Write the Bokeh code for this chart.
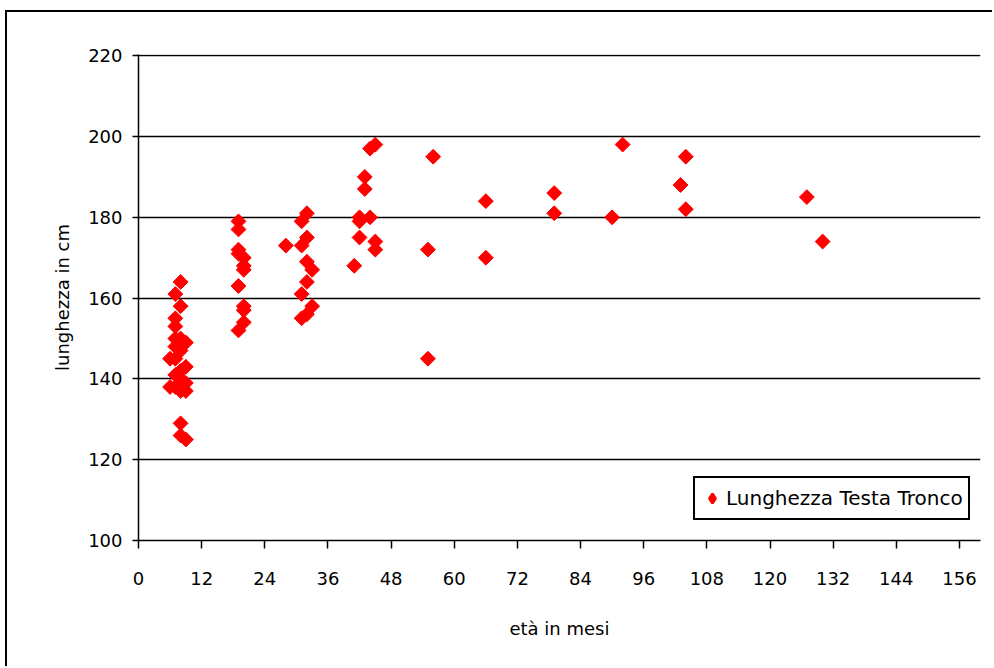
import numpy as np
from bokeh.plotting import figure
from bokeh.models import FixedTicker, Range1d
from bokeh.embed import file_html
from bokeh.resources import INLINE

# età in mesi / lunghezza in cm
eta_mesi = [8, 7, 8, 7, 7, 7, 8, 9, 7, 8, 6, 7, 9, 8, 7, 8, 9, 6, 7, 8, 9, 8, 8, 9,
            19, 19, 19, 19, 20, 20, 20, 19, 20, 20, 20, 19,
            28,
            32, 31, 32, 31, 32, 33, 32, 31, 33, 32, 31,
            45, 44, 43, 43, 42, 42, 44, 42, 45, 45, 41,
            56, 55, 55, 66, 66, 79, 79, 92, 90, 104, 103, 104, 127, 130]
lunghezza = [164, 161, 158, 155, 153, 150, 150, 149, 148, 147, 145, 145, 143, 142, 141, 140, 139, 138, 138, 137, 137, 129, 126, 125,
             179, 177, 172, 171, 170, 168, 167, 163, 158, 157, 154, 152,
             173,
             181, 179, 175, 173, 169, 167, 164, 161, 158, 156, 155,
             198, 197, 190, 187, 180, 179, 180, 175, 174, 172, 168,
             195, 172, 145, 184, 170, 186, 181, 198, 180, 195, 188, 182, 185, 174]
x_ticks = list(range(0, 157, 12))
y_ticks = list(range(100, 221, 20))
serie = "Lunghezza Testa Tronco"

FONT = "DejaVu Sans"

p = figure(width=987, height=656, output_backend="svg", toolbar_location=None,
           x_range=Range1d(0, 160), y_range=Range1d(100, 220.3),
           min_border_left=131, min_border_right=14, min_border_top=42, min_border_bottom=128,
           margin=(10, 0, 0, 5),
           styles={"border-top": "2px solid black", "border-left": "2px solid black"})
p.outline_line_color = None
p.background_fill_color = "white"
p.border_fill_color = "white"

p.scatter(eta_mesi, lunghezza, marker="square", angle=np.pi / 4, size=10.5,
          fill_color="#FF0000", line_color="#FF0000")
# legend swatch (diamond), drawn over the first point and hidden inside it
p.scatter(eta_mesi[:1], lunghezza[:1], marker="diamond", size=10.5, fill_color="#FF0000",
          line_color="#FF0000", line_width=2.5, legend_label=serie)

# axes
p.xaxis.ticker = FixedTicker(ticks=x_ticks)
p.yaxis.ticker = FixedTicker(ticks=y_ticks)
for ax in (p.xaxis, p.yaxis):
    ax.axis_line_color = "black"
    ax.axis_line_width = 1.5
    ax.major_tick_line_color = "black"
    ax.major_tick_line_width = 1.5
    ax.major_tick_in = 0
    ax.minor_tick_line_color = None
    ax.major_label_text_font = FONT
    ax.major_label_text_font_size = "18px"
    ax.major_label_text_color = "black"
    ax.axis_label_text_font = FONT
    ax.axis_label_text_font_size = "18px"
    ax.axis_label_text_font_style = "normal"
    ax.axis_label_text_color = "black"
p.xaxis.major_tick_out = 8
p.yaxis.major_tick_out = 6
p.xaxis.major_label_standoff = 23
p.yaxis.major_label_standoff = 10
p.xaxis.axis_label = "età in mesi"
p.yaxis.axis_label = "lunghezza in cm"
p.xaxis.axis_label_standoff = 30
p.yaxis.axis_label_standoff = 12

p.xgrid.grid_line_color = None
p.ygrid.grid_line_color = "black"
p.ygrid.grid_line_width = 1.5
p.ygrid.ticker = FixedTicker(ticks=y_ticks)

leg = p.legend[0]
leg.location = (555, 20)
leg.border_line_color = "black"
leg.border_line_width = 2
leg.border_line_alpha = 1
leg.background_fill_alpha = 1
leg.label_text_font = FONT
leg.label_text_font_size = "20px"
leg.label_text_color = "black"
leg.padding = 5
leg.spacing = 0
leg.glyph_width = 24
leg.glyph_height = 24
leg.label_height = 30
leg.label_standoff = 2
leg.margin = 0

open("out.html", "w").write(file_html(p, INLINE))
